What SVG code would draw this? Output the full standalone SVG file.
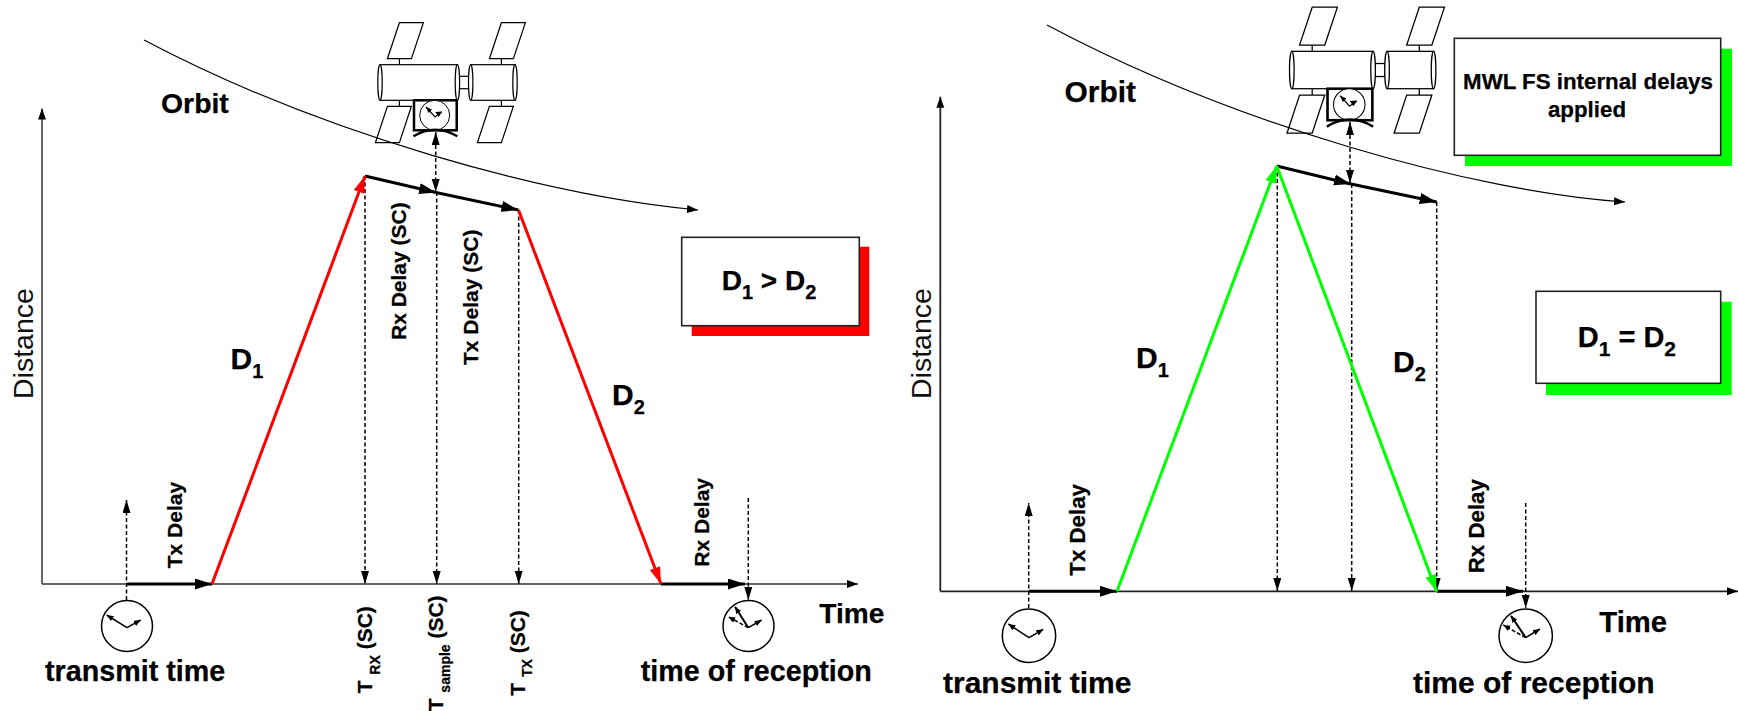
<svg xmlns="http://www.w3.org/2000/svg" width="1738" height="711" viewBox="0 0 1738 711">
  <style>
    text { font-family: "Liberation Sans", Arial, sans-serif; font-weight: bold; fill: #000; stroke: #000; stroke-width: 0.25; }
    .reg { font-weight: normal; fill: #111; stroke: none; }
    .axis-l { fill: none; stroke: #666; stroke-width: 2; marker-end: url(#head-axis); }
    .axis-r { fill: none; stroke: #222; stroke-width: 1.8; marker-end: url(#head-axis); }
    .orbit { fill: none; stroke: #000; stroke-width: 1.2; marker-end: url(#head-axis); }
    .delay { fill: none; stroke: #000; stroke-width: 3; marker-end: url(#head-bold); }
    .dash { fill: none; stroke: #000; stroke-width: 1.5; stroke-dasharray: 4 2.5; }
    .dash-end { marker-end: url(#head-dash); }
    .dash-both { marker-start: url(#head-dash); marker-end: url(#head-dash); }
    .red { fill: none; stroke: #f00; stroke-width: 3; }
    .green { fill: none; stroke: #0f0; stroke-width: 3; }
    .red-a { marker-end: url(#head-red); }
    .green-a { marker-end: url(#head-green); }
    .sat { fill: #fff; stroke: #000; stroke-width: 1.2; }
    .box { fill: #fff; stroke: #222; stroke-width: 1.6; }
    .hand { fill: none; stroke: #000; stroke-width: 1.5; marker-end: url(#head-hand); }
    .dial { fill: #fff; stroke: #000; stroke-width: 1.5; }
  </style>
  <defs>
    <marker id="head-axis" markerUnits="userSpaceOnUse" markerWidth="12" markerHeight="9" refX="11" refY="4" orient="auto"><path d="M0 0L11 4L0 8Z" fill="#000"/></marker>
    <marker id="head-bold" markerUnits="userSpaceOnUse" markerWidth="18" markerHeight="12" refX="17" refY="5.5" orient="auto"><path d="M0 0L17 5.5L0 11Z" fill="#000"/></marker>
    <marker id="head-dash" markerUnits="userSpaceOnUse" markerWidth="14" markerHeight="9" refX="13" refY="4" orient="auto-start-reverse"><path d="M0 0L13 4L0 8Z" fill="#000"/></marker>
    <marker id="head-red" markerUnits="userSpaceOnUse" markerWidth="18" markerHeight="12" refX="17" refY="5.5" orient="auto"><path d="M0 0L17 5.5L0 11Z" fill="#f00"/></marker>
    <marker id="head-green" markerUnits="userSpaceOnUse" markerWidth="18" markerHeight="12" refX="17" refY="5.5" orient="auto"><path d="M0 0L17 5.5L0 11Z" fill="#0f0"/></marker>
    <marker id="head-hand" markerUnits="userSpaceOnUse" markerWidth="8" markerHeight="7" refX="7" refY="3" orient="auto"><path d="M0 0L7 3L0 6Z" fill="#000"/></marker>

    <!-- Spacecraft, origin at the tip of the antenna link -->
    <g id="spacecraft">
      <path class="sat" d="M-36.3 -73.3V-67.3M65.7 -73.3V-67.3M-36.3 -31.7V-25.7M65.7 -31.7V-25.7"/>
      <path class="sat" d="M-36.3 -109.3H-12.3L-24.3 -73.3H-48.3Z"/>
      <path class="sat" d="M65.7 -109.3H89.7L77.7 -73.3H53.7Z"/>
      <path class="sat" d="M-48.3 -25.7H-24.3L-36.3 10.7H-60.3Z"/>
      <path class="sat" d="M53.7 -25.7H77.7L65.7 10.7H41.7Z"/>
      <rect class="sat" x="23.7" y="-55.7" width="9.3" height="12.4"/>
      <rect class="sat" x="-55.7" y="-67.3" width="77.4" height="35.6"/>
      <ellipse class="sat" cx="-55.7" cy="-49.5" rx="2.2" ry="17.8"/>
      <ellipse class="sat" cx="21.7" cy="-49.5" rx="2.2" ry="17.8"/>
      <rect class="sat" x="35" y="-67.3" width="44.3" height="35.6"/>
      <ellipse class="sat" cx="35" cy="-49.5" rx="2.2" ry="17.8"/>
      <ellipse class="sat" cx="79.3" cy="-49.5" rx="2.2" ry="17.8"/>
      <rect x="-21.7" y="-31.7" width="42.7" height="30" fill="#fff" stroke="#000" stroke-width="2.5"/>
      <circle cx="-1" cy="-16.7" r="15" fill="#fff" stroke="#000" stroke-width="1"/>
      <path d="M-9.7 -25L-0.7 -15L6 -20" fill="none" stroke="#000" stroke-width="1.2"/>
      <path d="M-9.7 -25l6 2.5l-3.5 3.5Z M6.5 -20.5l-7 .5l3.5 5Z" fill="#000"/>
      <path d="M-22.3 4.3Q-0.7 -9 21.7 4.3" fill="none" stroke="#000" stroke-width="2.5"/>
    </g>
  </defs>

  <rect width="1738" height="711" fill="#fff"/>

  <g id="spacecraft-left"><use href="#spacecraft" transform="translate(435.7 132)"/></g>
  <g id="spacecraft-right"><use href="#spacecraft" transform="translate(1350.3 122) scale(1.05)"/></g>

  <g id="connectors">
    <!-- Left panel -->
    <path class="axis-l" d="M42 584V108.5"/>
    <path class="axis-l" d="M42 584H858"/>
    <path class="orbit" d="M144 40C324 135 548 196 698 210"/>
    <path class="dash dash-end" d="M126.5 600V500"/>
    <path class="dash dash-end" d="M365 176V584"/>
    <path class="dash dash-end" d="M436.7 192V584"/>
    <path class="dash dash-end" d="M518.7 210V584"/>
    <path class="dash dash-both" d="M435.7 132V192"/>
    <path class="dash dash-end" d="M748.3 498V600"/>
    <path class="delay" d="M127 584H212"/>
    <path class="delay" d="M661 584H745"/>
    <path class="delay" d="M365 176L436 192.5"/>
    <path class="delay" d="M436 192.5L518.5 210"/>
    <path class="red red-a" d="M212 584L365 176"/>
    <path class="red red-a" d="M518.5 210L661 584"/>

    <!-- Right panel -->
    <path class="axis-r" d="M940.3 591.3V96.7"/>
    <path class="axis-r" d="M940.3 591.3H1738"/>
    <path class="orbit" d="M1047 25C1235 125 1475 192 1625 202"/>
    <path class="dash dash-end" d="M1028.7 608V503"/>
    <path class="dash dash-end" d="M1277.3 166V591"/>
    <path class="dash dash-end" d="M1351.7 184V591"/>
    <path class="dash dash-end" d="M1436.7 202V591"/>
    <path class="dash dash-both" d="M1350 122V183"/>
    <path class="dash dash-end" d="M1525.7 503V608"/>
    <path class="delay" d="M1029 591.3H1117"/>
    <path class="delay" d="M1437 591.3H1523"/>
    <path class="delay" d="M1276.7 166L1351 184"/>
    <path class="delay" d="M1351 184L1436.7 202"/>
    <path class="green green-a" d="M1117 591.3L1276.7 166"/>
    <path class="green green-a" d="M1276.7 166L1436.7 591.7"/>
  </g>

  <g id="clock-tx-left">
    <circle class="dial" cx="127" cy="626" r="25.5"/>
    <path class="hand" d="M127 627.7L106.7 615"/>
    <path class="hand" d="M127 627.7L140.7 620"/>
  </g>
  <g id="clock-rx-left">
    <circle class="dial" cx="748.5" cy="626" r="25.5"/>
    <path class="hand" style="stroke-width:2" d="M748.3 627.7L735 606.7"/>
    <path class="hand" d="M748.3 627.7L761.7 620"/>
    <path class="hand" stroke-dasharray="4 2" d="M748.3 627.7L728.3 616.7"/>
  </g>
  <g id="clock-tx-right">
    <circle class="dial" cx="1029" cy="635.7" r="26.7"/>
    <path class="hand" d="M1029 637.7L1008.3 624"/>
    <path class="hand" d="M1029 637.7L1043.3 629.3"/>
  </g>
  <g id="clock-rx-right">
    <circle class="dial" cx="1525.7" cy="635.7" r="26.7"/>
    <path class="hand" style="stroke-width:2" d="M1525.7 637.7L1511 615.7"/>
    <path class="hand" d="M1525.7 637.7L1540 629"/>
    <path class="hand" stroke-dasharray="4 2" d="M1525.7 637.7L1503.3 625"/>
  </g>

  <g id="box-d-greater">
    <rect x="691.7" y="246.7" width="177.6" height="89.3" fill="#f00"/>
    <rect class="box" x="681.7" y="237.3" width="177.6" height="88.4"/>
    <text x="721.7" y="290" font-size="28">D<tspan font-size="20" dy="9">1</tspan><tspan dy="-9"> &gt; D</tspan><tspan font-size="20" dy="9">2</tspan></text>
  </g>
  <g id="box-d-equal">
    <rect x="1546" y="301.7" width="185.7" height="93.3" fill="#0f0"/>
    <rect class="box" x="1536" y="291.3" width="184.7" height="92"/>
    <text x="1577.7" y="347.3" font-size="29">D<tspan font-size="21" dy="9">1</tspan><tspan dy="-9"> = D</tspan><tspan font-size="21" dy="9">2</tspan></text>
  </g>
  <g id="box-mwl">
    <rect x="1465" y="48.7" width="267" height="117.3" fill="#0f0"/>
    <rect class="box" x="1454.3" y="38.3" width="266.4" height="117"/>
    <text x="1588" y="89.3" font-size="22.3" text-anchor="middle">MWL FS internal delays</text>
    <text x="1587" y="116.7" font-size="22.3" text-anchor="middle">applied</text>
  </g>

  <g id="labels-left">
    <text x="161" y="112.7" font-size="28.4">Orbit</text>
    <text class="reg" transform="translate(33 399) rotate(-90)" font-size="28.5">Distance</text>
    <text x="230.5" y="369" font-size="30">D<tspan font-size="20" dy="9">1</tspan></text>
    <text x="612" y="404.6" font-size="30">D<tspan font-size="20" dy="9">2</tspan></text>
    <text x="45" y="680.7" font-size="28.7">transmit time</text>
    <text x="640.7" y="680.7" font-size="28.7">time of reception</text>
    <text x="819.3" y="622.7" font-size="28.1">Time</text>
    <text transform="translate(181.5 568.3) rotate(-90)" font-size="21">Tx Delay</text>
    <text transform="translate(709.3 566.7) rotate(-90)" font-size="21">Rx Delay</text>
    <text transform="translate(405.7 340) rotate(-90)" font-size="21">Rx Delay (SC)</text>
    <text transform="translate(478.3 365) rotate(-90)" font-size="21">Tx Delay (SC)</text>
    <text transform="translate(371.7 693.3) rotate(-90)" font-size="21">T <tspan font-size="14" dy="8">RX</tspan><tspan dy="-8"> (SC)</tspan></text>
    <text transform="translate(443.3 711.3) rotate(-90)" font-size="21">T <tspan font-size="14" dy="7">sample</tspan><tspan dy="-7"> (SC)</tspan></text>
    <text transform="translate(525 695.7) rotate(-90)" font-size="21">T <tspan font-size="14" dy="7">TX</tspan><tspan dy="-7"> (SC)</tspan></text>
  </g>
  <g id="labels-right">
    <text x="1064.5" y="101.7" font-size="29.9">Orbit</text>
    <text class="reg" transform="translate(931 399) rotate(-90)" font-size="28.5">Distance</text>
    <text x="1136" y="368" font-size="30">D<tspan font-size="20" dy="9">1</tspan></text>
    <text x="1393" y="371.7" font-size="30">D<tspan font-size="20" dy="9">2</tspan></text>
    <text x="943" y="692.7" font-size="30">transmit time</text>
    <text x="1413" y="692.7" font-size="30">time of reception</text>
    <text x="1599.3" y="631.7" font-size="29.3">Time</text>
    <text transform="translate(1085 575.7) rotate(-90)" font-size="22.3">Tx Delay</text>
    <text transform="translate(1484.3 573.3) rotate(-90)" font-size="22.3">Rx Delay</text>
  </g>
</svg>
